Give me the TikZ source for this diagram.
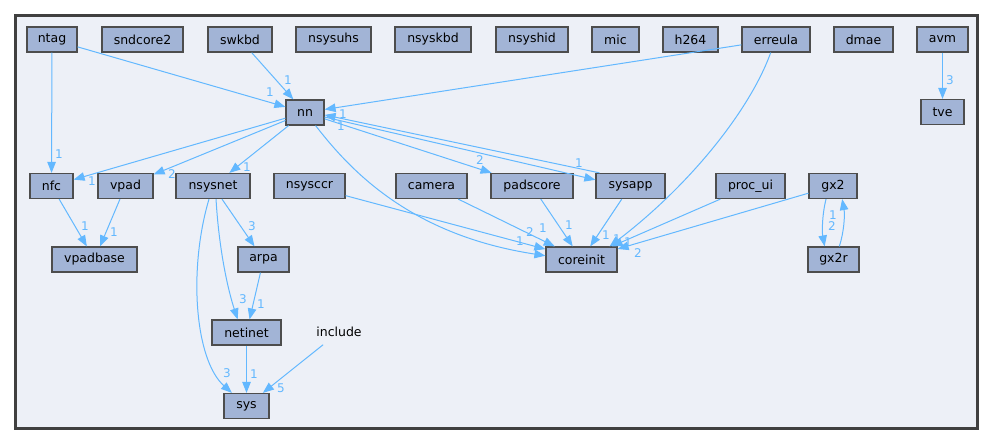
\documentclass[tikz,border=0pt]{standalone}
\usepackage{fontspec}
\setmainfont{DejaVu Sans}
\usetikzlibrary{arrows.meta}
\definecolor{edgec}{HTML}{63B8FF}
\definecolor{nodefill}{HTML}{A2B4D6}
\definecolor{nodeborder}{HTML}{4D4D4D}
\definecolor{bgfill}{HTML}{EDF0F7}
\definecolor{framec}{HTML}{404040}
\tikzset{
 box/.style={draw=nodeborder, fill=nodefill, line width=1.2pt, minimum height=25pt, inner sep=0pt, font=\fontsize{12.5}{14}\selectfont, text=black},
 plaintxt/.style={minimum height=25pt, minimum width=50pt, inner sep=0pt, font=\fontsize{12.5}{14}\selectfont, text=black},
 dep/.style={draw=edgec, line width=1pt, -{Triangle[length=11pt,width=8.5pt]}},
 lbl/.style={text=edgec, font=\fontsize{12}{14}\selectfont, inner sep=0pt},
}
\begin{document}
\begin{tikzpicture}[x=1pt,y=-1pt]
\useasboundingbox (0,0) rectangle (995,445);
\draw[draw=framec, fill=bgfill, line width=2.5pt] (15.5,15.5) rectangle (977.5,428.5);
% top row
\node[box, minimum width=50pt] (ntag) at (52,39.5) {ntag};
\node[box, minimum width=81pt] (sndcore2) at (142.5,39.5) {sndcore2};
\node[box, minimum width=64pt] (swkbd) at (240,39.5) {swkbd};
\node[box, minimum width=75pt] (nsysuhs) at (333.5,39.5) {nsysuhs};
\node[box, minimum width=76pt] (nsyskbd) at (433,39.5) {nsyskbd};
\node[box, minimum width=72pt] (nsyshid) at (532,39.5) {nsyshid};
\node[box, minimum width=47pt] (mic) at (615.5,39.5) {mic};
\node[box, minimum width=55pt] (h264) at (690.5,39.5) {h264};
\node[box, minimum width=68pt] (erreula) at (776,39.5) {erreula};
\node[box, minimum width=59pt] (dmae) at (863.5,39.5) {dmae};
\node[box, minimum width=51pt] (avm) at (942.5,39.5) {avm};
% second
\node[box, minimum width=43pt] (tve) at (942.5,112) {tve};
\node[box, minimum width=38pt] (nn) at (305,112.5) {nn};
% third row
\node[box, minimum width=43pt] (nfc) at (51.5,186) {nfc};
\node[box, minimum width=55pt] (vpad) at (125.5,186) {vpad};
\node[box, minimum width=74pt] (nsysnet) at (213,186) {nsysnet};
\node[box, minimum width=71pt] (nsysccr) at (309.5,186) {nsysccr};
\node[box, minimum width=71pt] (camera) at (431.5,186) {camera};
\node[box, minimum width=82pt] (padscore) at (532,186) {padscore};
\node[box, minimum width=69pt] (sysapp) at (630.5,186) {sysapp};
\node[box, minimum width=69pt] (procui) at (750.5,186) {proc\_ui};
\node[box, minimum width=48pt] (gx2) at (833,186) {gx2};
% fourth
\node[box, minimum width=85pt] (vpadbase) at (94.5,259.5) {vpadbase};
\node[box, minimum width=51pt] (arpa) at (263.5,259.5) {arpa};
\node[box, minimum width=71pt] (coreinit) at (581.5,259.5) {coreinit};
\node[box, minimum width=51pt] (gx2r) at (833.5,259.5) {gx2r};
% fifth
\node[box, minimum width=69pt] (netinet) at (246.5,332.5) {netinet};
\node[plaintxt] (include) at (339,332) {include};
\node[box, minimum width=45pt] (sys) at (246.5,406) {sys};

% edges
\draw[dep] (ntag) -- (nn);
\draw[dep] (swkbd) -- (nn);
\draw[dep] (erreula) -- (nn);
\draw[dep] (sysapp.157) -- (nn.-7);
\draw[dep] (nn.-13) -- (sysapp.170);
\draw[dep] (nn) -- (padscore);
\draw[dep] (ntag) -- (nfc);
\draw[dep] (nn) -- (nfc);
\draw[dep] (nn) -- (vpad);
\draw[dep] (nn) -- (nsysnet);
\draw[dep] (nn.-51) .. controls (350,170) and (410,235) .. (coreinit.174);
\draw[dep] (nsysccr) -- (coreinit.164);
\draw[dep] (camera) -- (coreinit);
\draw[dep] (padscore) -- (coreinit);
\draw[dep] (sysapp) -- (coreinit);
\draw[dep] (erreula.-112) .. controls (750,110) and (690,185) .. (coreinit.25);
\draw[dep] (procui) -- (coreinit);
\draw[dep] (gx2) -- (coreinit);
\draw[dep] (gx2.-118) .. controls (822,215) and (822,232) .. (gx2r.124);
\draw[dep] (gx2r.66) .. controls (844,232) and (845,215) .. (gx2.-55);
\draw[dep] (avm) -- (tve);
\draw[dep] (nfc) -- (vpadbase);
\draw[dep] (vpad) -- (vpadbase);
\draw[dep] (nsysnet) -- (arpa);
\draw[dep] (nsysnet.-77) .. controls (219,250) and (228,290) .. (netinet.124);
\draw[dep] (nsysnet.-107) .. controls (188,270) and (195,360) .. (sys.138);
\draw[dep] (arpa) -- (netinet);
\draw[dep] (netinet) -- (sys);
\draw[dep] (include) -- (sys);

% labels
\node[lbl] (l1) at (270,92) {1};
\node[lbl] (l2) at (288,80) {1};
\node[lbl] (l3) at (343,114) {1};
\node[lbl] (l4) at (341,126) {1};
\node[lbl] (l5) at (579,163) {1};
\node[lbl] (l6) at (480,160) {2};
\node[lbl] (l7) at (59,154) {1};
\node[lbl] (l8) at (92,181) {1};
\node[lbl] (l9) at (172,174) {2};
\node[lbl] (l10) at (247,167) {1};
\node[lbl] (l11) at (520,241) {1};
\node[lbl] (l12) at (530,232) {2};
\node[lbl] (l13) at (543,228) {1};
\node[lbl] (l14) at (569,225) {1};
\node[lbl] (l15) at (606,235) {1};
\node[lbl] (l16) at (617,239) {1};
\node[lbl] (l17) at (628,242) {1};
\node[lbl] (l18) at (638,253) {2};
\node[lbl] (l19) at (833,215) {1};
\node[lbl] (l20) at (832,226) {2};
\node[lbl] (l21) at (950,80) {3};
\node[lbl] (l22) at (85,226) {1};
\node[lbl] (l23) at (114,232) {1};
\node[lbl] (l24) at (252,226) {3};
\node[lbl] (l25) at (243,299) {3};
\node[lbl] (l26) at (261,304) {1};
\node[lbl] (l27) at (227,373) {3};
\node[lbl] (l28) at (254,374) {1};
\node[lbl] (l29) at (281,388) {5};
\end{tikzpicture}
\end{document}
